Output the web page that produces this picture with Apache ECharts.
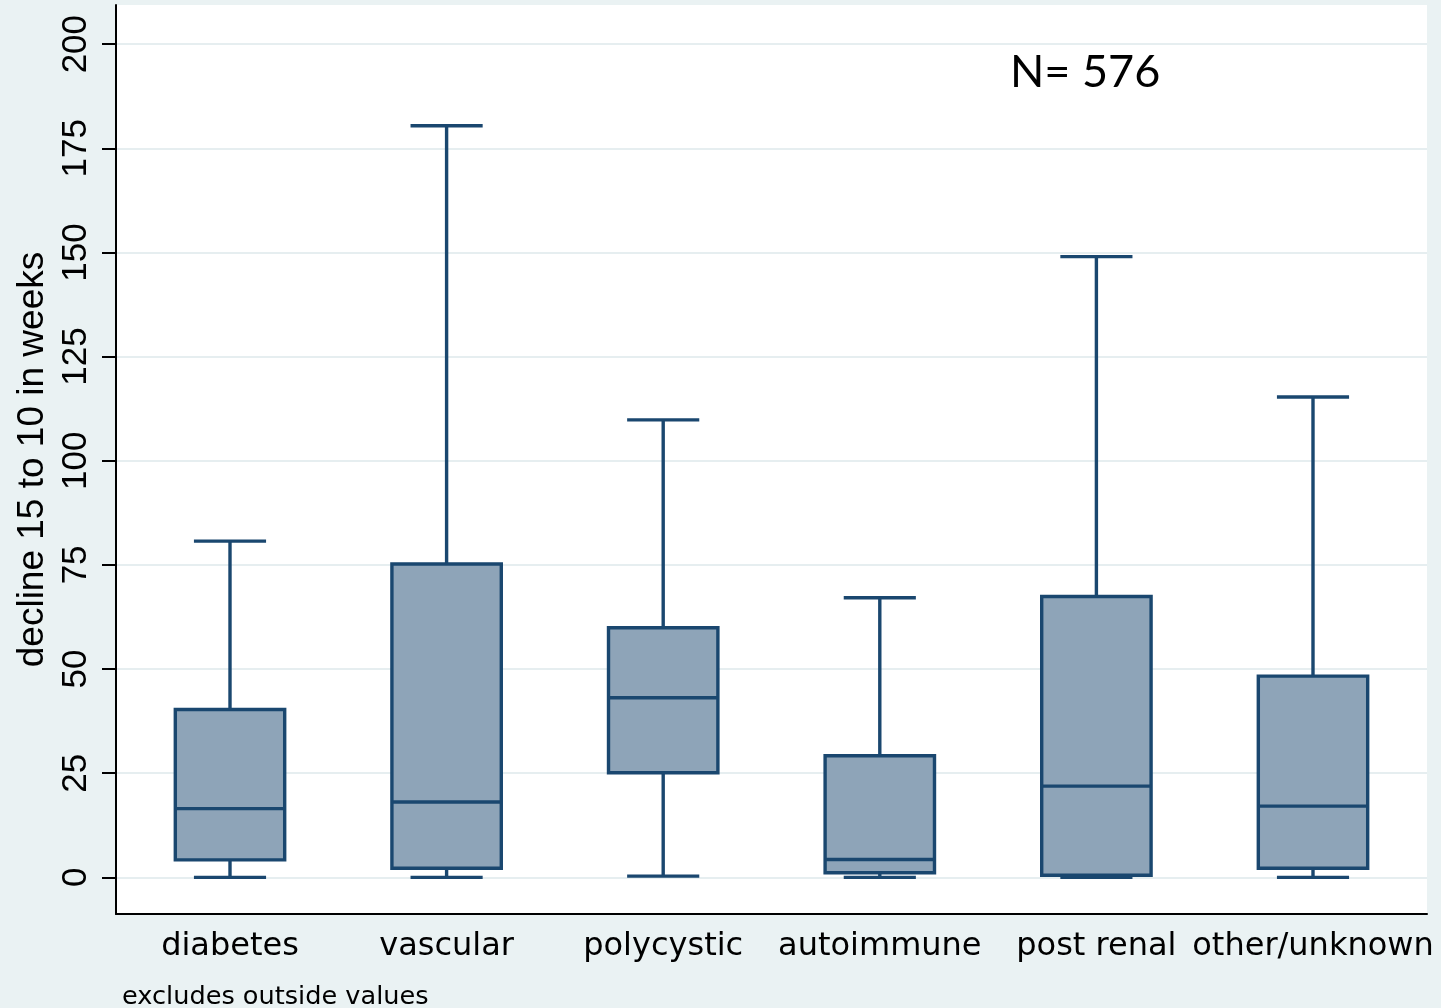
<!DOCTYPE html>
<html>
<head>
<meta charset="utf-8">
<script src="https://cdn.jsdelivr.net/npm/echarts@6/dist/echarts.min.js"></script>
<style>
  html, body { margin: 0; padding: 0; background: #eaf2f3; }
  #chart { width: 1441px; height: 1008px; }
</style>
</head>
<body>
<div id="chart"></div>
<script>
// categories along the x axis
const categories = ['diabetes', 'vascular', 'polycystic', 'autoimmune', 'post renal', 'other/unknown'];
// box plot values (weeks)
const whiskerLow = [0, 0, 0.3, 0, 0, 0];
const q1 = [4.2, 2.2, 25.1, 1.1, 0.5, 2.2];
const median = [16.5, 18.1, 43.1, 4.3, 21.9, 17.1];
const q3 = [40.3, 75.2, 59.9, 29.2, 67.4, 48.3];
const whiskerHigh = [80.7, 180.4, 109.8, 67.1, 149.0, 115.3];
// y axis ticks
const yTicks = [0, 25, 50, 75, 100, 125, 150, 175, 200];

const yMin = -8.8;
const yMax = 209.4;
const navy = '#1a476f';
const boxFill = '#8ea4b8';

const chart = echarts.init(document.getElementById('chart'));

const boxData = categories.map((c, i) => [i, whiskerLow[i], q1[i], median[i], q3[i], whiskerHigh[i]]);

function renderBox(params, api) {
    const x = api.value(0);
    const pLow = api.coord([x, api.value(1)]);
    const pQ1 = api.coord([x, api.value(2)]);
    const pMed = api.coord([x, api.value(3)]);
    const pQ3 = api.coord([x, api.value(4)]);
    const pHigh = api.coord([x, api.value(5)]);
    const band = api.size([1, 0])[0];
    const bw = band * 0.505;
    const cw = band * 0.333;
    const cx = pMed[0];
    const lineStyle = { stroke: navy, lineWidth: 3.4, fill: null };
    return {
        type: 'group',
        children: [
            { type: 'line', shape: { x1: cx, y1: pQ3[1], x2: cx, y2: pHigh[1] }, style: lineStyle },
            { type: 'line', shape: { x1: cx - cw / 2, y1: pHigh[1], x2: cx + cw / 2, y2: pHigh[1] }, style: lineStyle },
            { type: 'line', shape: { x1: cx, y1: pQ1[1], x2: cx, y2: pLow[1] }, style: lineStyle },
            { type: 'line', shape: { x1: cx - cw / 2, y1: pLow[1], x2: cx + cw / 2, y2: pLow[1] }, style: lineStyle },
            {
                type: 'rect',
                shape: { x: cx - bw / 2, y: pQ3[1], width: bw, height: pQ1[1] - pQ3[1] },
                style: { fill: boxFill, stroke: navy, lineWidth: 3.4 }
            },
            { type: 'line', shape: { x1: cx - bw / 2, y1: pMed[1], x2: cx + bw / 2, y2: pMed[1] }, style: lineStyle }
        ]
    };
}

const option = {
    backgroundColor: '#eaf2f3',
    animation: false,
    title: [
        {
            text: 'N= 576',
            left: 1010,
            top: 50,
            padding: 0,
            textStyle: { fontFamily: 'Lato', fontSize: 45, fontWeight: 'normal', color: '#000' }
        },
        {
            text: 'excludes outside values',
            left: 122,
            top: 984,
            padding: 0,
            textStyle: { fontFamily: 'DejaVu Sans', fontSize: 25.6, fontWeight: 'normal', color: '#000' }
        }
    ],
    grid: [
        // plot frame: white area, y axis, grid lines
        { left: 116, right: 14, top: 5, bottom: 94, show: true, backgroundColor: '#fff', borderWidth: 0 },
        // boxes, slightly inset so the categories sit where they do in the picture
        { left: 121.7, right: 19.7, top: 5, bottom: 94 }
    ],
    xAxis: [
        {
            gridIndex: 0,
            type: 'value',
            min: 0,
            max: 1,
            axisLine: { show: true, onZero: false, lineStyle: { color: '#000', width: 2 } },
            axisTick: { show: false },
            axisLabel: { show: false },
            splitLine: { show: false }
        },
        {
            gridIndex: 1,
            type: 'category',
            data: categories,
            axisLine: { show: false },
            axisTick: { show: false },
            axisLabel: {
                margin: 17,
                fontFamily: 'DejaVu Sans',
                fontSize: 32,
                color: '#000',
                interval: 0
            },
            splitLine: { show: false }
        }
    ],
    yAxis: [
        {
            gridIndex: 0,
            type: 'value',
            min: yMin,
            max: yMax,
            name: 'decline 15 to 10 in weeks',
            nameLocation: 'middle',
            nameGap: 64,
            nameRotate: 90,
            nameTextStyle: { fontFamily: 'Liberation Sans', fontSize: 37, color: '#000' },
            axisLine: { show: true, onZero: false, lineStyle: { color: '#000', width: 2 } },
            axisTick: { show: true, length: 14, customValues: yTicks, lineStyle: { color: '#000', width: 2 } },
            axisLabel: {
                customValues: yTicks,
                rotate: 90,
                margin: 22,
                fontFamily: 'Liberation Sans',
                fontSize: 35,
                color: '#000'
            },
            splitLine: { show: true, lineStyle: { color: '#e6eef0', width: 2 } }
        },
        {
            gridIndex: 1,
            type: 'value',
            min: yMin,
            max: yMax,
            show: false,
            splitLine: { show: false }
        }
    ],
    series: [
        {
            type: 'custom',
            xAxisIndex: 1,
            yAxisIndex: 1,
            renderItem: renderBox,
            encode: { x: 0, y: [1, 2, 3, 4, 5] },
            data: boxData,
            z: 5
        }
    ]
};

chart.setOption(option);
</script>
</body>
</html>
